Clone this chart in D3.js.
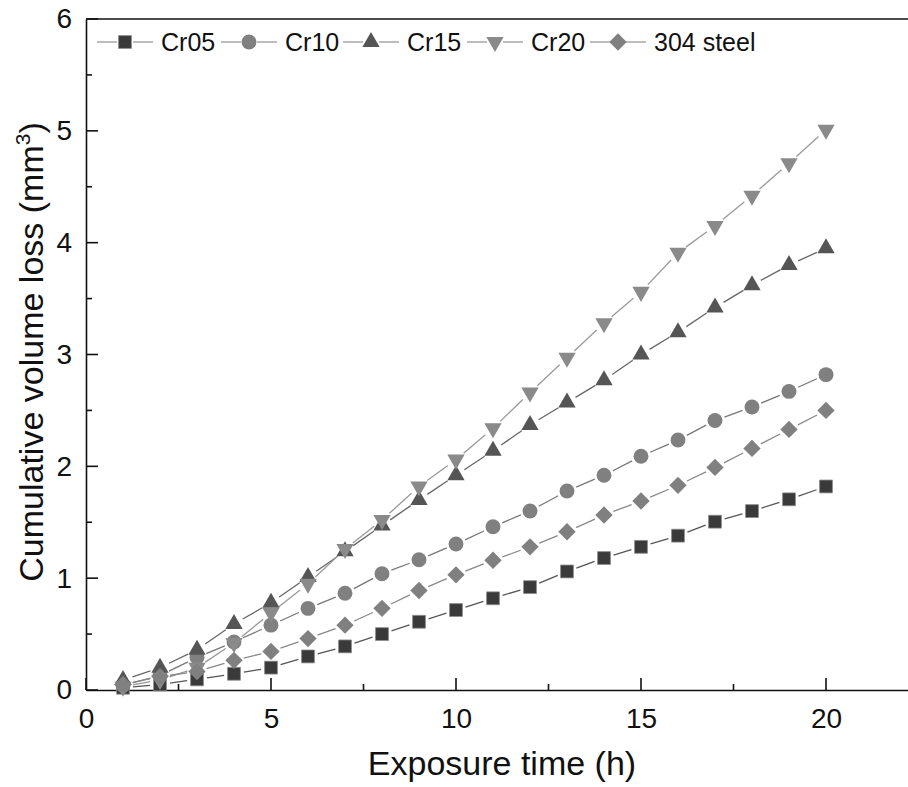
<!DOCTYPE html>
<html><head><meta charset="utf-8">
<script src="https://cdn.jsdelivr.net/npm/d3@7"></script>
<style>body{margin:0;background:#fff}svg{display:block;font-family:"Liberation Sans",Arial,sans-serif}</style>
</head><body><svg id="c" width="908" height="787"></svg>
<script>
const hours = [1,2,3,4,5,6,7,8,9,10,11,12,13,14,15,16,17,18,19,20];
const cr05 = [0.02,0.05,0.095,0.145,0.2,0.3,0.39,0.5,0.61,0.715,0.82,0.92,1.06,1.18,1.28,1.38,1.505,1.6,1.705,1.82];
const cr10 = [0.04,0.13,0.29,0.43,0.58,0.73,0.865,1.04,1.165,1.305,1.46,1.6,1.78,1.92,2.09,2.235,2.41,2.53,2.67,2.82];
const cr15 = [0.09,0.2,0.36,0.59,0.78,1.01,1.24,1.47,1.7,1.92,2.14,2.37,2.57,2.77,3.0,3.2,3.42,3.62,3.8,3.95];
const cr20 = [0.03,0.09,0.2,0.42,0.69,0.95,1.26,1.52,1.82,2.06,2.34,2.66,2.97,3.28,3.56,3.91,4.15,4.42,4.71,5.01];
const s304 = [0.05,0.12,0.165,0.265,0.345,0.46,0.58,0.73,0.89,1.03,1.16,1.28,1.415,1.565,1.69,1.83,1.99,2.16,2.33,2.5];
const seriesNames = ["Cr05","Cr10","Cr15","Cr20","304 steel"];
const xTicks = [0,5,10,15,20];
const yTicks = [0,1,2,3,4,5,6];

const series = [
  {name:seriesNames[0], values:cr05, shape:"square", fill:"#3a3a3a", line:"#555"},
  {name:seriesNames[1], values:cr10, shape:"circle", fill:"#808080", line:"#777"},
  {name:seriesNames[2], values:cr15, shape:"triUp", fill:"#555555", line:"#666"},
  {name:seriesNames[3], values:cr20, shape:"triDown", fill:"#8a8a8a", line:"#999"},
  {name:seriesNames[4], values:s304, shape:"diamond", fill:"#808080", line:"#888"}
];

const svg = d3.select("#c");
const L = 86, T = 19, B = 690;
const FONT = "'Liberation Sans',Arial,sans-serif";
const x = d3.scaleLinear().domain([0,22.5]).range([L, L + 37*22.5]);
const y = d3.scaleLinear().domain([0,6]).range([B, T]);

function symbolPath(shape){
  const m = {square:[d3.symbolSquare,165], circle:[d3.symbolCircle,175], triUp:[d3.symbolTriangle,130], triDown:[d3.symbolTriangle,130], diamond:[d3.symbolSquare,150]};
  return d3.symbol().type(m[shape][0]).size(m[shape][1])();
}
function drawMarker(g, shape, fill){
  const p = g.append("path").attr("d", symbolPath(shape)).attr("fill", fill)
    .attr("stroke", shape==="square" ? "#8a8a8a" : "none").attr("stroke-width", 0.8);
  if(shape==="triDown") p.attr("transform","rotate(180)");
  if(shape==="diamond") p.attr("transform","rotate(45)");
  return p;
}

// frame
svg.append("line").attr("x1",L).attr("x2",908).attr("y1",T).attr("y2",T).attr("stroke","#111").attr("stroke-width",1.6);

// axes
const xAxis = d3.axisBottom(x).tickValues(xTicks).tickSize(0).tickPadding(0).tickFormat(d3.format("d"));
const gx = svg.append("g").attr("transform",`translate(0,${B})`).call(xAxis);
gx.attr("font-size",28).attr("font-family",FONT);
gx.select(".domain").attr("stroke","#111").attr("stroke-width",1.6);
gx.selectAll("text").attr("fill","#111").attr("dy","1.36em");
const xMinor = [2.5,7.5,12.5,17.5,22.5];
gx.selectAll("line.maj").data(xTicks).join("line").attr("class","maj").attr("x1",d=>x(d)).attr("x2",d=>x(d)).attr("y1",0).attr("y2",-12).attr("stroke","#111").attr("stroke-width",1.6);
gx.selectAll("line.min").data(xMinor).join("line").attr("class","min").attr("x1",d=>x(d)).attr("x2",d=>x(d)).attr("y1",0).attr("y2",-6).attr("stroke","#111").attr("stroke-width",1.6);

const yAxis = d3.axisLeft(y).tickValues(yTicks).tickSize(0).tickPadding(14).tickFormat(d3.format("d"));
const gy = svg.append("g").attr("transform",`translate(${L},0)`).call(yAxis);
gy.attr("font-size",28).attr("font-family",FONT);
gy.select(".domain").attr("stroke","#111").attr("stroke-width",1.6);
gy.selectAll("text").attr("fill","#111");
const yMinor = [0.5,1.5,2.5,3.5,4.5,5.5];
gy.selectAll("line.maj").data(yTicks).join("line").attr("class","maj").attr("y1",d=>y(d)).attr("y2",d=>y(d)).attr("x1",0).attr("x2",12).attr("stroke","#111").attr("stroke-width",1.6);
gy.selectAll("line.min").data(yMinor).join("line").attr("class","min").attr("y1",d=>y(d)).attr("y2",d=>y(d)).attr("x1",0).attr("x2",6).attr("stroke","#111").attr("stroke-width",1.6);

// titles
svg.append("text").attr("x",502).attr("y",775).attr("text-anchor","middle").attr("font-size",34).attr("fill","#111").text("Exposure time (h)");
const yt = svg.append("text").attr("transform","translate(43,352) rotate(-90)").attr("text-anchor","middle").attr("font-size",34).attr("fill","#111");
yt.append("tspan").text("Cumulative volume loss (mm");
yt.append("tspan").attr("font-size",21).attr("dy",-13).text("3");
yt.append("tspan").attr("dy",13).text(")");

// series
const gap = 10;
series.forEach(s => {
  const pts = hours.map((h,i)=>[x(h), y(s.values[i])]);
  const g = svg.append("g");
  for(let i=0;i<pts.length-1;i++){
    const [x1,y1]=pts[i],[x2,y2]=pts[i+1];
    const dx=x2-x1, dy=y2-y1, len=Math.hypot(dx,dy);
    if(len <= 2*gap) continue;
    const ux=dx/len, uy=dy/len;
    g.append("line").attr("x1",x1+ux*gap).attr("y1",y1+uy*gap).attr("x2",x2-ux*gap).attr("y2",y2-uy*gap)
      .attr("stroke",s.line).attr("stroke-width",1.3);
  }
});
series.forEach(s => {
  const g = svg.append("g");
  hours.forEach((h,i)=>{
    const m = g.append("g").attr("transform",`translate(${x(h)},${y(s.values[i])})`);
    drawMarker(m, s.shape, s.fill);
  });
});

// legend
const legX = [97,221,343,467,590];
const lg = svg.append("g");
series.forEach((s,i)=>{
  const x0 = legX[i], cy = 42;
  lg.append("line").attr("x1",x0).attr("x2",x0+20).attr("y1",cy).attr("y2",cy).attr("stroke","#999").attr("stroke-width",1.3);
  lg.append("line").attr("x1",x0+36).attr("x2",x0+56).attr("y1",cy).attr("y2",cy).attr("stroke","#999").attr("stroke-width",1.3);
  const m = lg.append("g").attr("transform",`translate(${x0+28},${cy})`);
  drawMarker(m, s.shape, s.fill);
  lg.append("text").attr("x",x0+64).attr("y",cy+9).attr("font-size",25).attr("fill","#111").text(s.name);
});
</script></body></html>
